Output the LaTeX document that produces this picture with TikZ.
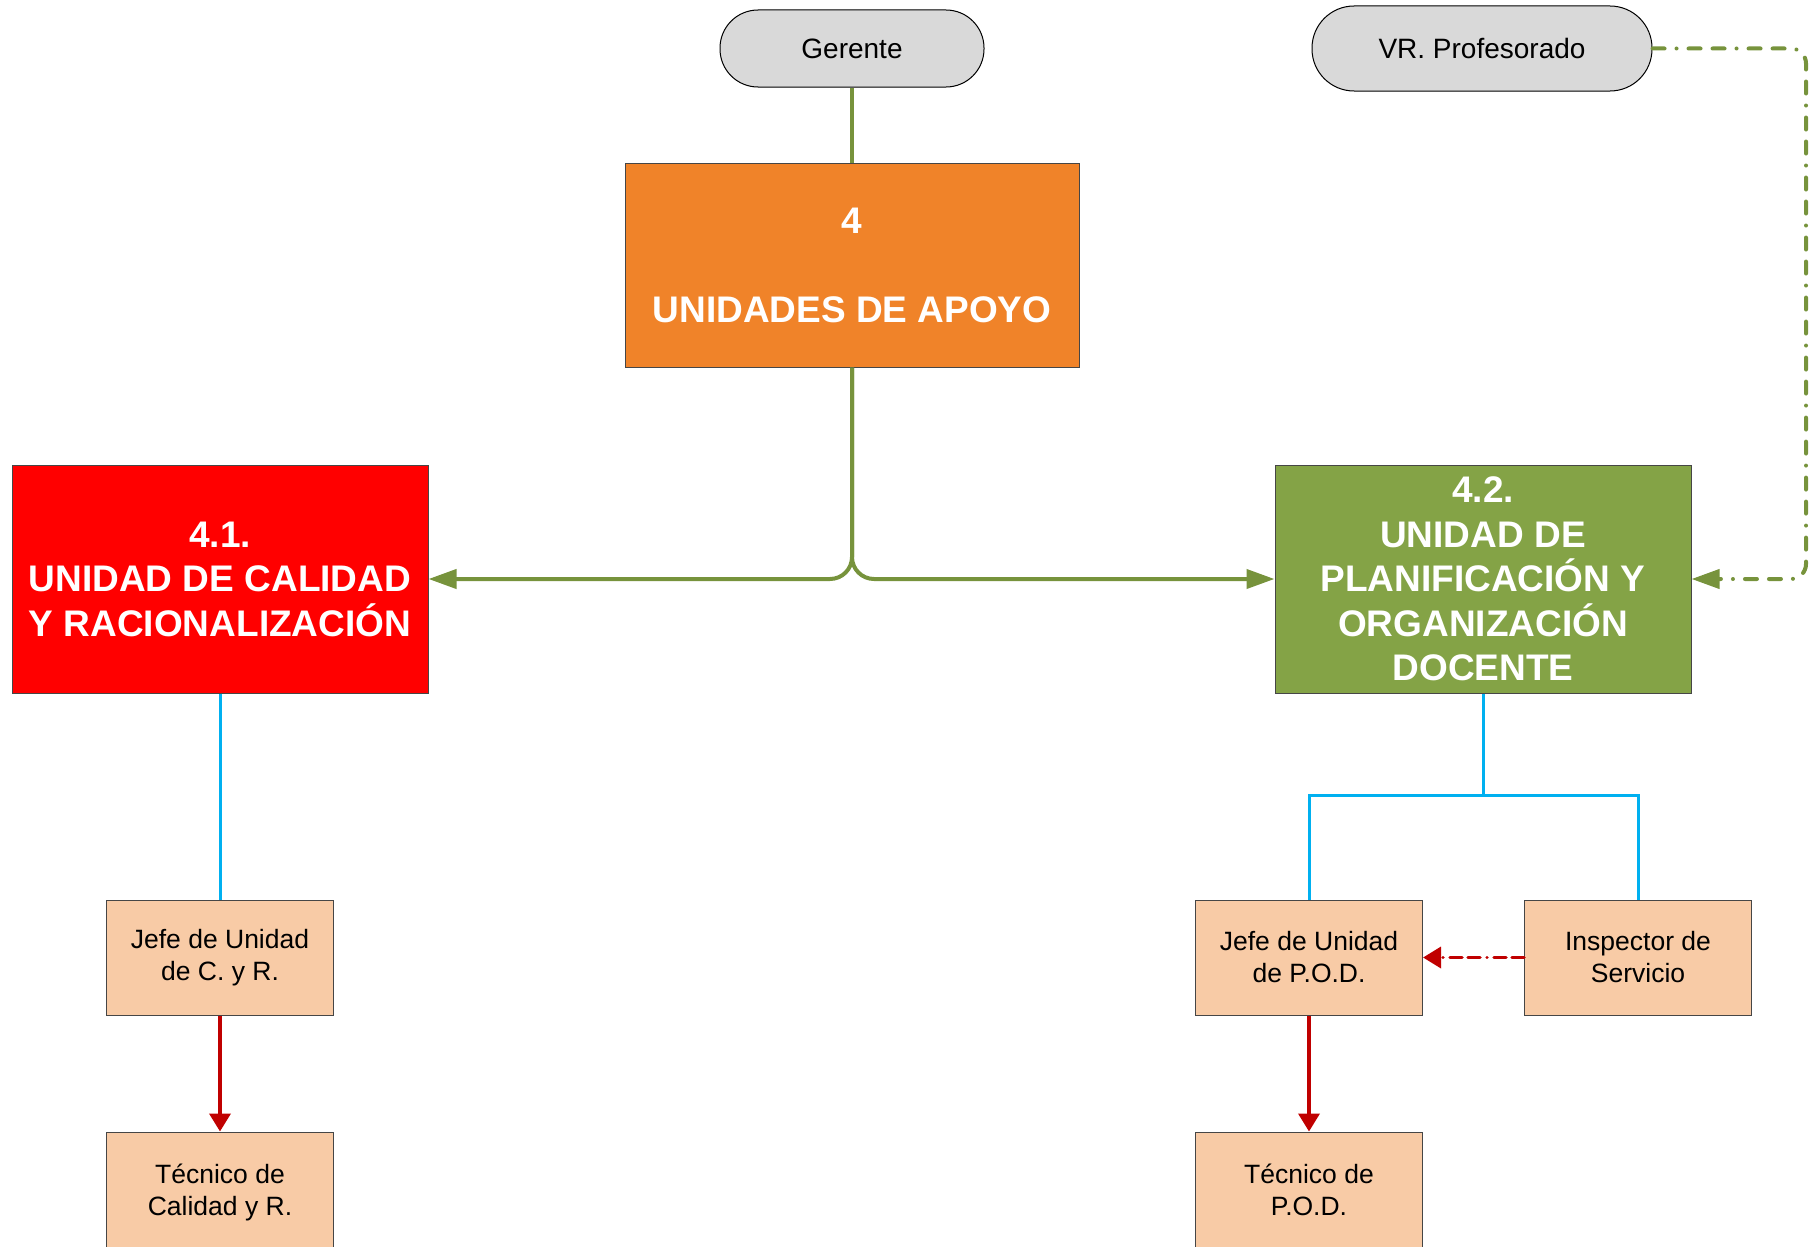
\documentclass[tikz,border=0pt]{standalone}
\usepackage{fontspec}
\setmainfont{Liberation Sans}
\usetikzlibrary{arrows.meta,calc}
\definecolor{pillgray}{RGB}{217,217,217}
\definecolor{boxorange}{RGB}{240,131,41}
\definecolor{boxred}{RGB}{255,0,0}
\definecolor{boxgreen}{RGB}{132,163,70}
\definecolor{linegreen}{RGB}{119,147,60}
\definecolor{lineblue}{RGB}{0,176,240}
\definecolor{linered}{RGB}{192,0,0}
\definecolor{peach}{RGB}{248,203,166}
\definecolor{edgegray}{RGB}{70,70,70}
\begin{document}
\begin{tikzpicture}[x=1pt,y=-1pt,
  pill/.style={draw=black,line width=1pt,fill=pillgray,rounded corners=38pt,
    font=\fontsize{28}{34}\selectfont,inner sep=0pt},
  bigbox/.style={draw=edgegray,line width=1pt,text=white,align=center,
    font=\fontsize{37}{44.5}\selectfont\bfseries,inner sep=0pt,
    minimum width=416pt,minimum height=228pt},
  smallbox/.style={draw=edgegray,line width=1pt,fill=peach,align=center,
    font=\fontsize{26.5}{32}\selectfont,inner sep=0pt,
    minimum width=227pt,minimum height=115pt},
  gline/.style={draw=linegreen,line width=4pt},
  bline/.style={draw=lineblue,line width=3pt},
  rline/.style={draw=linered,line width=3.7pt},
  gtip/.style={-{Triangle[length=28pt,width=19pt]}},
  rtip/.style={-{Triangle[length=18pt,width=21pt]}},
  gdashdot/.style={line width=4pt,line cap=round,
    dash pattern=on 12pt off 12pt on 0.01pt off 12pt on 12pt off 12pt},
  rdashdot/.style={line width=3.5pt,line cap=round,
    dash pattern=on 12pt off 6pt on 12pt off 7pt on 0.01pt off 7pt}
]
\useasboundingbox (0,0) rectangle (1817,1247);

\node[pill,minimum width=264pt,minimum height=77pt] (ger) at (852,48.5) {Gerente};
\node[pill,minimum width=340pt,minimum height=85pt,rounded corners=42pt] (vr) at (1482,48.5) {VR. Profesorado};

\node[bigbox,fill=boxorange,minimum width=454pt,minimum height=204pt] (u4) at (852,265)
  {4\\[44.5pt]UNIDADES DE APOYO};
\node[bigbox,fill=boxred] (u41) at (220,579)
  {4.1.\\UNIDAD DE CALIDAD\\Y RACIONALIZACIÓN};
\node[bigbox,fill=boxgreen] (u42) at (1483,579)
  {4.2.\\UNIDAD DE\\PLANIFICACIÓN Y\\ORGANIZACIÓN\\DOCENTE};

\node[smallbox] (jcr) at (220,957.5) {Jefe de Unidad\\de C. y R.};
\node[smallbox] (tcr) at (220,1189.5) {Técnico de\\Calidad \smash{y} R.};
\node[smallbox] (jpod) at (1309,957.5) {Jefe de Unidad\\de P.O.D.};
\node[smallbox] (insp) at (1638,957.5) {Inspector de\\Servicio};
\node[smallbox] (tpod) at (1309,1189.5) {Técnico de\\P.O.D.};

% green connectors
\draw[gline] (ger.south) -- (u4.north);
\draw[gline,gtip,rounded corners=22pt] (u4.south) |- (u41.east);
\draw[gline,gtip,rounded corners=22pt] (u4.south) |- (u42.west);
\coordinate (vrturn) at (1806,48.5);
\draw[draw=linegreen,gdashdot,gtip,rounded corners=15pt] (vr.east) -- (vrturn) |- (u42.east);

% blue connectors
\draw[bline] (u41.south) -- (jcr.north);
\coordinate (bj) at (1483,795);
\draw[bline] (u42.south) -- (bj) -| (jpod.north);
\draw[bline] (bj) -| (insp.north);

% red connectors
\draw[rline,rtip] (jcr.south) -- (tcr.north);
\draw[rline,rtip] (jpod.south) -- (tpod.north);
\draw[draw=linered,rdashdot,rtip] (insp.west) -- (jpod.east);
\end{tikzpicture}
\end{document}
